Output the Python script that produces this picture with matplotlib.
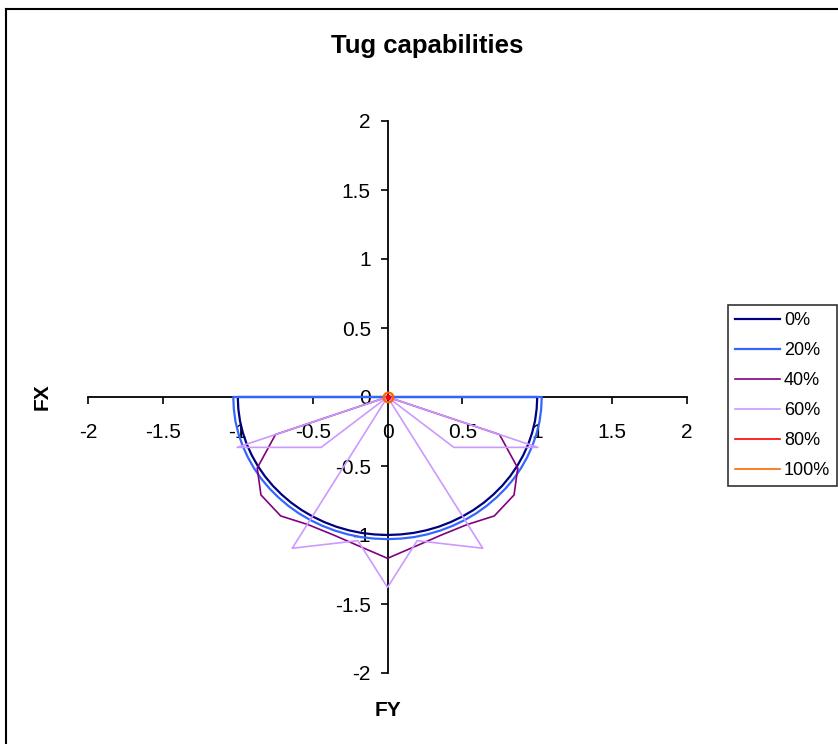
import matplotlib
matplotlib.use("Agg")
import matplotlib.pyplot as plt
from matplotlib.lines import Line2D
from matplotlib.ticker import MultipleLocator, FormatStrFormatter

plt.rcParams['font.family'] = ['Liberation Sans', 'DejaVu Sans']
plt.rcParams['axes.unicode_minus'] = False

# Tug capability envelopes, FY (horizontal) and FX (vertical)
fy_0 = [0.0, -1.000, -0.996, -0.985, -0.966, -0.940, -0.906, -0.866, -0.819, -0.766, -0.707,
        -0.643, -0.574, -0.500, -0.423, -0.342, -0.259, -0.174, -0.087, 0.0,
        0.087, 0.174, 0.259, 0.342, 0.423, 0.500, 0.574, 0.643, 0.707, 0.766,
        0.819, 0.866, 0.906, 0.940, 0.966, 0.985, 0.996, 1.000, 0.0]
fx_0 = [0.0, 0.0, -0.087, -0.174, -0.259, -0.342, -0.423, -0.500, -0.574, -0.643, -0.707,
        -0.766, -0.819, -0.866, -0.906, -0.940, -0.966, -0.985, -0.996, -1.000,
        -0.996, -0.985, -0.966, -0.940, -0.906, -0.866, -0.819, -0.766, -0.707, -0.643,
        -0.574, -0.500, -0.423, -0.342, -0.259, -0.174, -0.087, 0.0, 0.0]

fy_20 = [0.0, -1.030, -1.026, -1.015, -0.995, -0.968, -0.933, -0.892, -0.844, -0.789, -0.728,
         -0.662, -0.591, -0.515, -0.436, -0.352, -0.267, -0.179, -0.090, 0.0,
         0.090, 0.179, 0.267, 0.352, 0.436, 0.515, 0.591, 0.662, 0.728, 0.789,
         0.844, 0.892, 0.933, 0.968, 0.995, 1.015, 1.026, 1.030, 0.0]
fx_20 = [0.0, 0.0, -0.090, -0.179, -0.267, -0.352, -0.436, -0.515, -0.591, -0.662, -0.728,
         -0.789, -0.844, -0.892, -0.933, -0.968, -0.995, -1.015, -1.026, -1.030,
         -1.026, -1.015, -0.995, -0.968, -0.933, -0.892, -0.844, -0.789, -0.728, -0.662,
         -0.591, -0.515, -0.436, -0.352, -0.267, -0.179, -0.090, 0.0, 0.0]

fy_40 = [0.0, 0.0, -0.748, -0.870, -0.845, -0.713, -0.530, -0.360, -0.180, 0.0,
         0.180, 0.360, 0.530, 0.713, 0.845, 0.870, 0.748, 0.0, 0.0]
fx_40 = [0.0, 0.0, -0.272, -0.515, -0.710, -0.862, -0.925, -1.000, -1.085, -1.169,
         -1.085, -1.000, -0.925, -0.862, -0.710, -0.515, -0.272, 0.0, 0.0]

fy_60 = [0.0, 0.0, -1.004, -0.632, -0.443, 0.0, -0.636, -0.388, -0.198, 0.0,
         0.198, 0.388, 0.636, 0.0, 0.443, 0.632, 1.004, 0.0, 0.0]
fx_60 = [0.0, 0.0, -0.365, -0.365, -0.365, 0.0, -1.096, -1.065, -1.041, -1.380,
         -1.041, -1.065, -1.096, 0.0, -0.365, -0.365, -0.365, 0.0, 0.0]

fy_80 = [0.0, 0.0, 0.0]
fx_80 = [0.0, 0.0, 0.0]
fy_100 = [0.0, 0.0, 0.0]
fx_100 = [0.0, 0.0, 0.0]

labels = ['0%', '20%', '40%', '60%', '80%', '100%']
colors = ['#000080', '#3366FF', '#800080', '#CC99FF', '#FF0000', '#FF6600']

fig = plt.figure(figsize=(8.38, 7.44), dpi=100)
ax = fig.add_axes([88 / 838, 1 - 673 / 744, 599 / 838, 552 / 744])

series = [(fy_0, fx_0), (fy_20, fx_20), (fy_40, fx_40), (fy_60, fx_60),
          (fy_80, fx_80), (fy_100, fx_100)]
widths = [1.6, 1.6, 1.2, 1.2, 1.2, 1.2]
for (fy, fx), lab, c, w in zip(series, labels, colors, widths):
    ax.plot(fy, fx, color=c, lw=w, label=lab, zorder=3)
# marker drawn at the origin for the zero capability cases
ax.plot(fy_80[:1], fx_80[:1], 'o', ms=3, color='#FF0000', zorder=4)
ax.plot(fy_100[:1], fx_100[:1], 'o', ms=7, mfc='none', mec='#FF6600', mew=1.6, zorder=4)

ax.set_xlim(-2, 2)
ax.set_ylim(-2, 2)
ax.spines['left'].set_position(('data', 0))
ax.spines['bottom'].set_position(('data', 0))
ax.spines['top'].set_visible(False)
ax.spines['right'].set_visible(False)
for s in ['left', 'bottom']:
    ax.spines[s].set_linewidth(1.3)
ax.xaxis.set_major_locator(MultipleLocator(0.5))
ax.yaxis.set_major_locator(MultipleLocator(0.5))
ax.xaxis.set_major_formatter(FormatStrFormatter('%g'))
ax.yaxis.set_major_formatter(FormatStrFormatter('%g'))
ax.tick_params(axis='x', direction='out', length=5, width=1.2, pad=14, labelsize=15)
ax.tick_params(axis='y', direction='out', length=5, width=1.2, pad=7, labelsize=15)
ax.patch.set_alpha(0)

fig.text(427 / 838, 1 - 46 / 744, 'Tug capabilities', ha='center', va='center',
         fontsize=18.5, fontweight='bold')
fig.text(42 / 838, 1 - 397 / 744, 'FX', ha='center', va='center', rotation=90,
         fontsize=15, fontweight='bold')
fig.text(388 / 838, 1 - 710 / 744, 'FY', ha='center', va='center',
         fontsize=15, fontweight='bold')

leg = fig.legend(loc='upper left', bbox_to_anchor=(728 / 838, 1 - 305 / 744),
                 fontsize=13, frameon=True, fancybox=False, handlelength=2.5,
                 handletextpad=0.2, borderpad=0.4, labelspacing=0.72,
                 borderaxespad=0)
leg.get_frame().set_edgecolor('black')
leg.get_frame().set_linewidth(1.2)

# outer chart border (cut off at right and bottom)
fig.add_artist(Line2D([5.5 / 838, 5.5 / 838], [0, 1 - 8.5 / 744], color='black', lw=1.5))
fig.add_artist(Line2D([5.5 / 838, 1], [1 - 8.5 / 744, 1 - 8.5 / 744], color='black', lw=1.5))

fig.savefig('out.png', dpi=100)
